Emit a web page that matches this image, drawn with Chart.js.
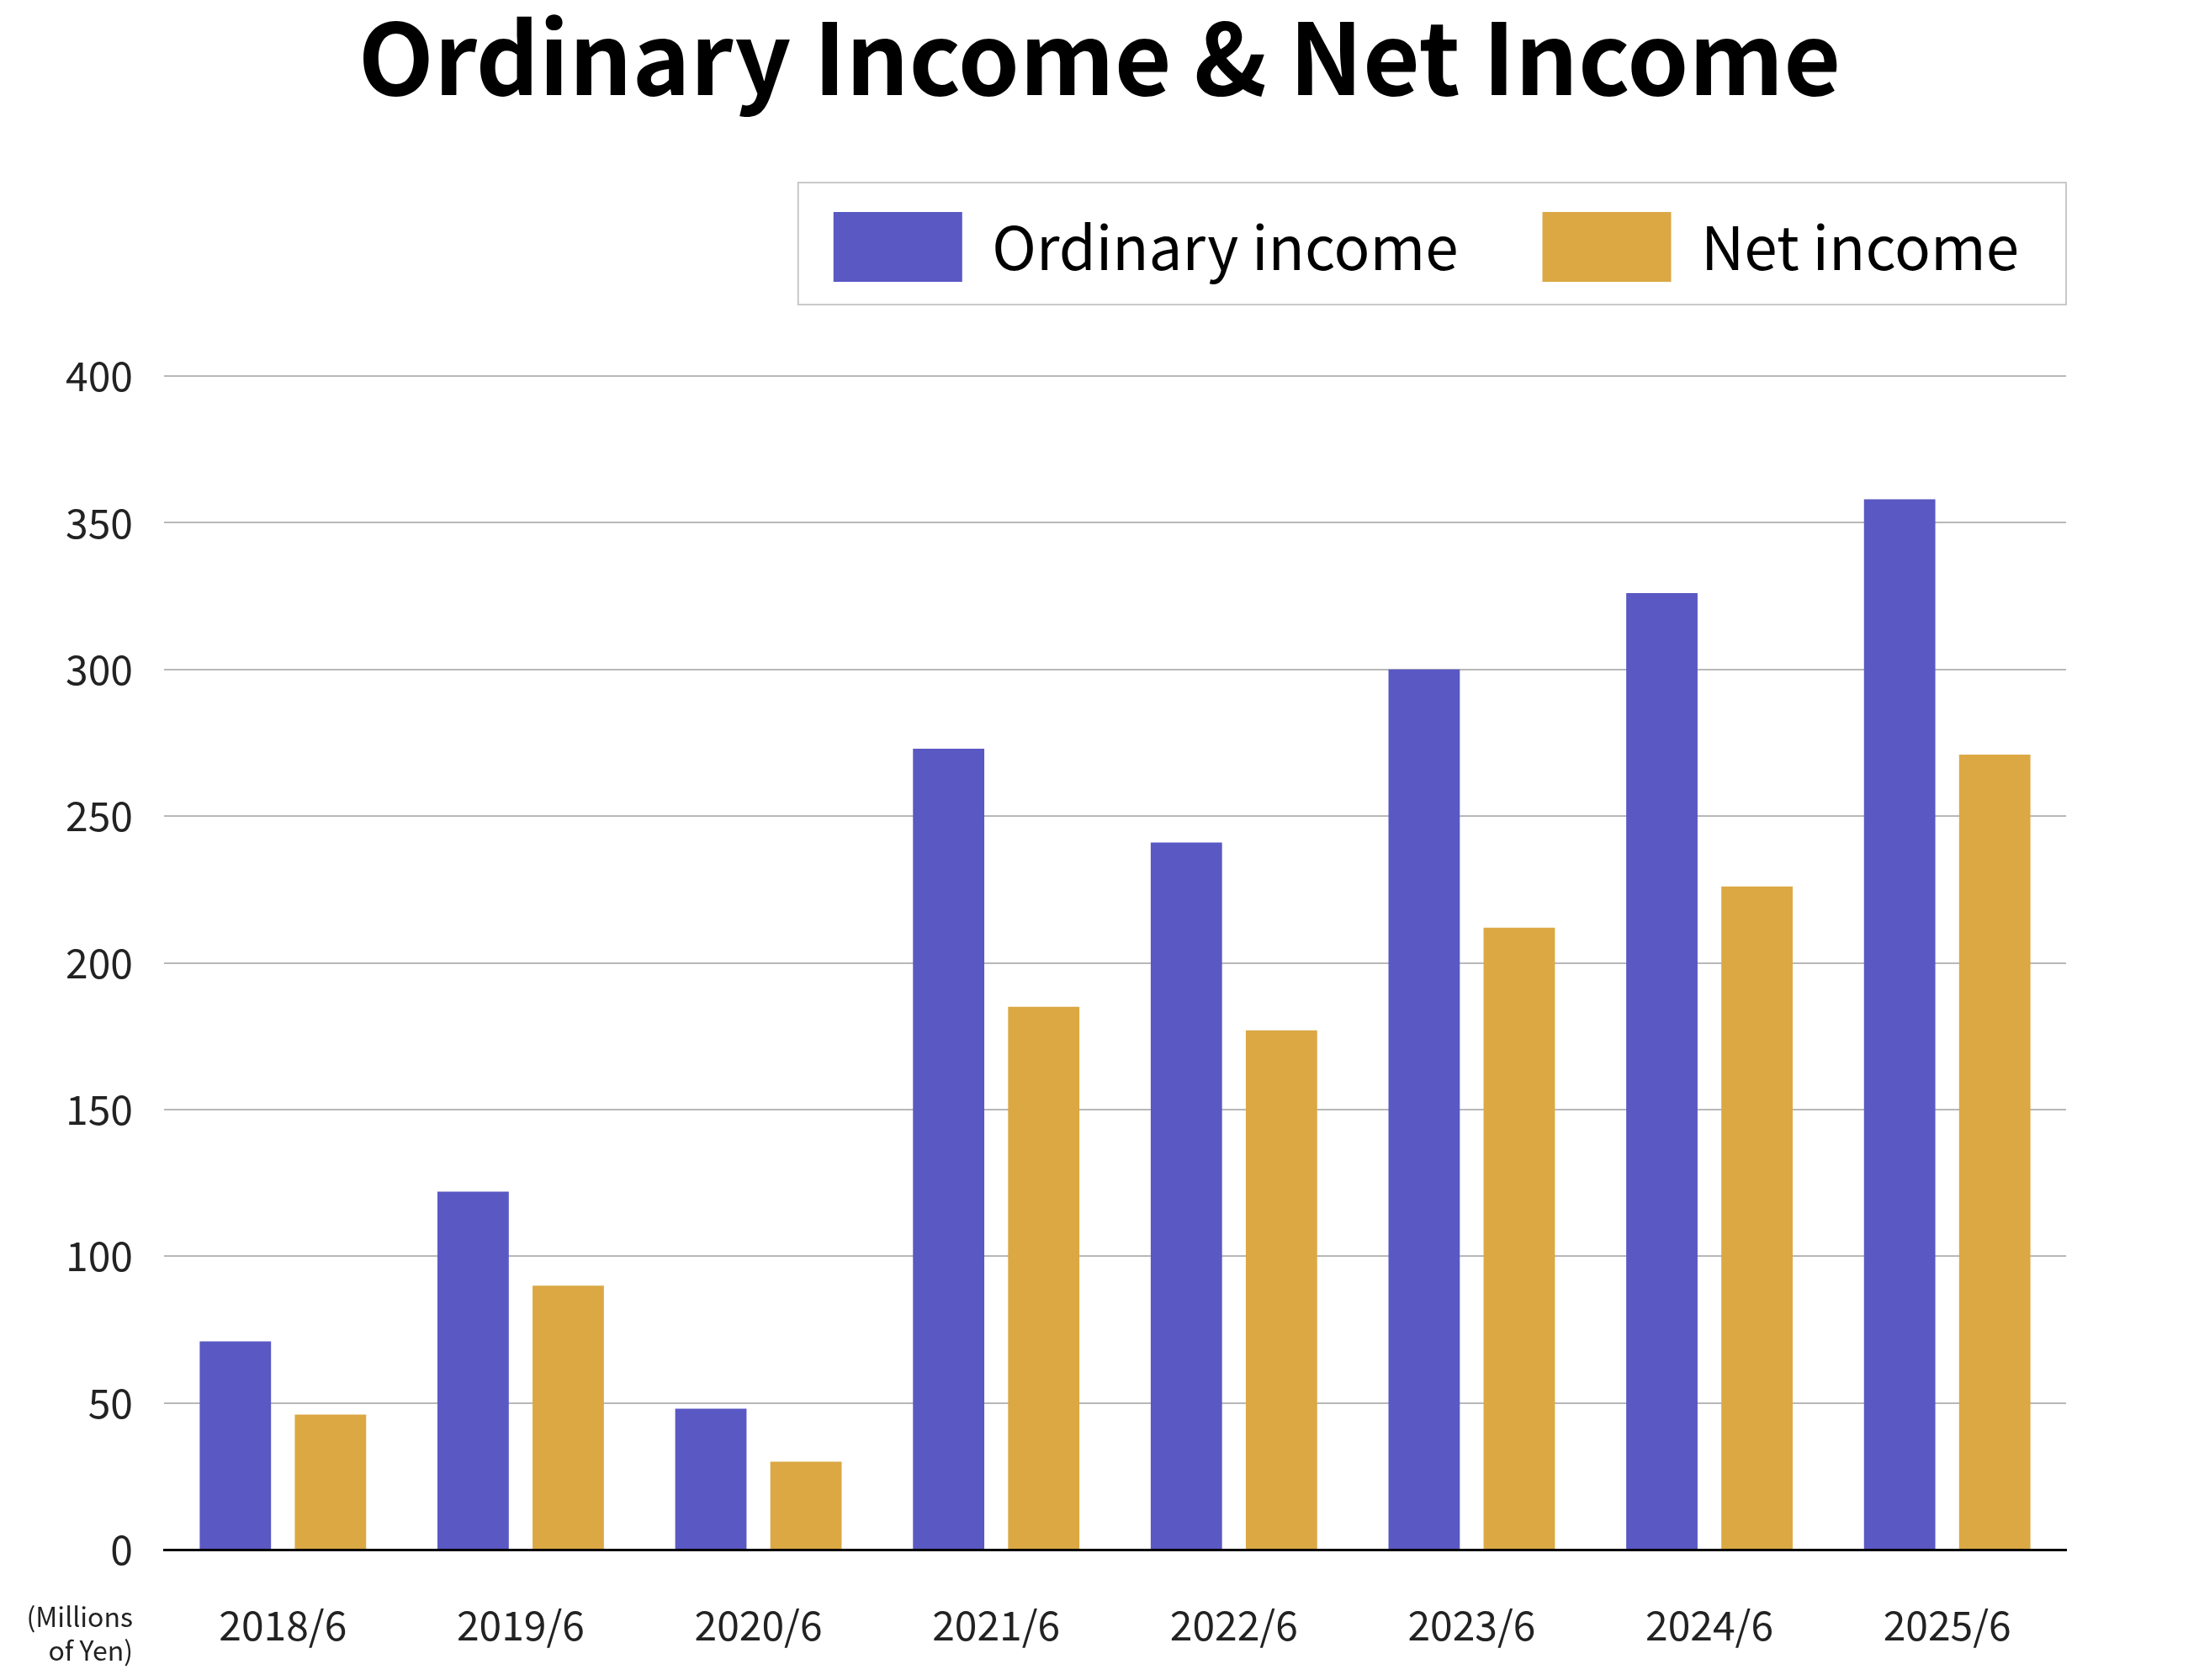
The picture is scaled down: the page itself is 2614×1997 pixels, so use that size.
<!DOCTYPE html>
<html lang="en">
<head>
    <meta charset="UTF-8">
    <title>Ordinary Income & Net Income</title>
    <script src="https://cdn.jsdelivr.net/npm/chart.js"></script>
    <style>
        html, body { margin: 0; padding: 0; background: #fff; }
        #wrap { width: 2614px; height: 1997px; }
    </style>
</head>
<body>
<div id="wrap"><canvas id="chartIncome" width="2614" height="1997"></canvas></div>

<script>
// data (millions of yen)
const periods = ['2018/6', '2019/6', '2020/6', '2021/6', '2022/6', '2023/6', '2024/6', '2025/6'];
const ordinaryIncome = [71, 122, 48, 273, 241, 300, 326, 358];
const netIncome = [46, 90, 30, 185, 177, 212, 226, 271];
const seriesNames = ['Ordinary income', 'Net income'];
const unitLines = ['(Millions', 'of Yen)'];

const FONT = "'Noto Sans CJK JP', 'Noto Sans', sans-serif";

// empty box that pushes the plot down under the legend
const spacer = {
    id: 'spacer',
    afterInit(chart) {
        Chart.layouts.addBox(chart, {
            position: 'top', weight: 500, fullSize: true, options: {},
            isHorizontal() { return true; },
            update(w, h) { this.width = w; this.height = 102; },
            draw() {}
        });
    },
    // centre the title on the whole canvas, not on the padded box
    afterLayout(chart) {
        if (chart.titleBlock) {
            chart.titleBlock.left = 0;
            chart.titleBlock.right = chart.width;
        }
    }
};

// thin frame round the legend + unit note under the y axis
const extras = {
    id: 'extras',
    afterDraw(chart) {
        const ctx = chart.ctx;
        const lg = chart.legend;
        if (lg && lg.legendHitBoxes.length) {
            const hb = lg.legendHitBoxes;
            const left = hb[0].left - 42;
            const right = chart.chartArea.right;
            const top = hb[0].top - 35;
            const bottom = hb[0].top + hb[0].height + 27;
            ctx.save();
            ctx.strokeStyle = '#c8c8c8';
            ctx.lineWidth = 2;
            ctx.strokeRect(left, top, right - left, bottom - top);
            ctx.restore();
        }
        ctx.save();
        ctx.fillStyle = '#222';
        ctx.font = '32px ' + FONT;
        ctx.textAlign = 'right';
        ctx.textBaseline = 'middle';
        unitLines.forEach((t, i) => ctx.fillText(t, 158, 1922 + i * 40));
        ctx.restore();
    }
};

new Chart(document.getElementById('chartIncome'), {
    type: 'bar',
    data: {
        labels: periods,
        datasets: [
            { label: seriesNames[0], data: ordinaryIncome, backgroundColor: '#5a58c3', categoryPercentage: 0.8, barPercentage: 0.75 },
            { label: seriesNames[1], data: netIncome, backgroundColor: '#dba844', categoryPercentage: 0.8, barPercentage: 0.75 }
        ]
    },
    options: {
        responsive: false,
        animation: false,
        layout: { padding: { left: 30, right: 114, top: 0, bottom: 0 } },
        plugins: {
            tooltip: { enabled: false },
            title: {
                display: true,
                text: 'Ordinary Income & Net Income',
                color: '#000',
                font: { family: FONT, size: 117, weight: 'bold', lineHeight: 1.18 },
                padding: { top: 0, bottom: 14 }
            },
            legend: {
                display: true,
                position: 'top',
                align: 'end',
                labels: {
                    color: '#000',
                    font: { family: FONT, size: 71 },
                    boxWidth: 153,
                    boxHeight: 83,
                    padding: 100
                }
            }
        },
        scales: {
            x: {
                grid: { display: false, drawTicks: false },
                border: { display: true, color: '#000', width: 3 },
                ticks: { color: '#222', font: { family: FONT, size: 48 }, padding: 61 },
                afterFit(s) { s.height = 155; }
            },
            y: {
                min: 0,
                max: 400,
                grid: { color: '#b8b8b8', lineWidth: 2, drawTicks: false },
                border: { display: false },
                ticks: { stepSize: 50, color: '#222', font: { family: FONT, size: 48 }, padding: 37 },
                afterFit(s) { s.width = 165; }
            },
            yR: {
                position: 'right',
                display: true,
                grid: { display: false, drawOnChartArea: false, drawTicks: false },
                border: { display: false },
                ticks: { display: false },
                afterFit(s) { s.width = 44; }
            }
        }
    },
    plugins: [spacer, extras]
});
</script>
</body>
</html>
